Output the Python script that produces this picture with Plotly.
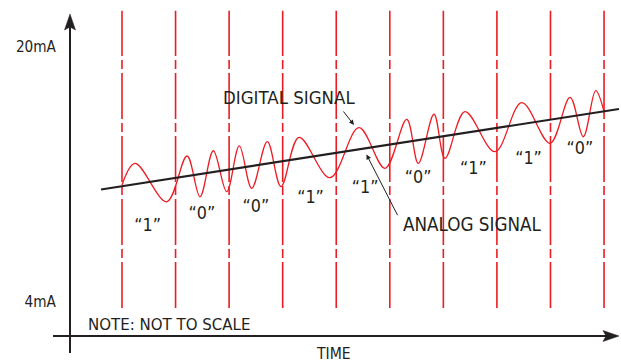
import plotly.graph_objects as go

W, H = 621, 364

# ---------------- data (time in bit periods, current in mA) ----------------
bits = ["1", "0", "0", "1", "1", "0", "1", "1", "0"]
bit_edges = [0, 1, 2, 3, 4, 5, 6, 7, 8, 9]
bit_label_t = [0.48, 1.49, 2.50, 3.52, 4.54, 5.53, 6.56, 7.59, 8.55]
bit_label_ma = [8.73, 9.46, 9.92, 10.51, 11.13, 11.76, 12.28, 12.91, 13.54]

analog_t = [-0.392, 9.279]
analog_ma = [11.06, 16.11]

# extrema of the FSK (digital) waveform
wave_t = [0.000, 0.243, 0.835, 1.214, 1.456, 1.705, 1.955, 2.190, 2.422,
          2.713, 2.969, 3.305, 3.884, 4.425, 4.910, 5.316, 5.532, 5.825,
          6.031, 6.404, 6.964, 7.463, 7.991, 8.365, 8.613, 8.844, 9.000]
wave_ma = [11.34, 12.70, 10.29, 13.16, 10.61, 13.49, 10.92, 13.79, 11.13,
           14.06, 11.24, 14.33, 11.80, 14.94, 12.39, 15.46, 12.70, 15.78,
           13.02, 15.94, 13.43, 16.51, 13.96, 16.84, 14.37, 17.26, 15.94]

y_tick_vals = [4, 20]
y_tick_text = ["4mA", "20mA"]

# ---------------- style ----------------
RED = "#ED1C24"
INK = "#231F20"
FONT = "DejaVu Sans Condensed, DejaVu Sans, sans-serif"


def px(x):
    return x / W


def py(y):
    return 1 - y / H


fig = go.Figure()

fig.add_trace(go.Scatter(
    x=wave_t, y=wave_ma, mode="lines",
    line=dict(color=RED, width=1.3, shape="spline", smoothing=1.0),
    hoverinfo="skip", showlegend=False))

fig.add_trace(go.Scatter(
    x=analog_t, y=analog_ma, mode="lines",
    line=dict(color=INK, width=2.2),
    hoverinfo="skip", showlegend=False))

fig.add_trace(go.Scatter(
    x=bit_label_t, y=bit_label_ma, mode="text",
    text=[f"\u201c{b}\u201d" for b in bits],
    textfont=dict(family=FONT, size=17.8, color=INK),
    hoverinfo="skip", showlegend=False))

shapes = []
for t in bit_edges:
    shapes.append(dict(type="line", xref="x", yref="paper",
                       x0=t, x1=t, y0=py(308), y1=py(10.7), layer="below",
                       line=dict(color=RED, width=1.6, dash="46px,4px,9px,4px")))

# axes with arrowheads
shapes.append(dict(type="line", xref="paper", yref="paper",
                   x0=px(70), x1=px(70), y0=py(353), y1=py(26),
                   line=dict(color=INK, width=2)))
shapes.append(dict(type="path", xref="paper", yref="paper",
                   path=f"M {px(70)},{py(14)} L {px(64.5)},{py(30)} L {px(70)},{py(27)} "
                        f"L {px(75.5)},{py(30)} Z",
                   fillcolor=INK, line=dict(color=INK, width=0.5)))
shapes.append(dict(type="line", xref="paper", yref="paper",
                   x0=px(53), x1=px(607), y0=py(336), y1=py(336),
                   line=dict(color=INK, width=2)))
shapes.append(dict(type="path", xref="paper", yref="paper",
                   path=f"M {px(619)},{py(336)} L {px(603)},{py(330.5)} L {px(606)},{py(336)} "
                        f"L {px(603)},{py(341.5)} Z",
                   fillcolor=INK, line=dict(color=INK, width=0.5)))


def label(text, cx, cy, size):
    return dict(text=text, x=px(cx), y=py(cy), xref="paper", yref="paper",
                xanchor="center", yanchor="middle", showarrow=False,
                font=dict(family=FONT, size=size, color=INK))


annotations = [
    label("DIGITAL SIGNAL", 289, 97.5, 18.5),
    label("ANALOG SIGNAL", 472, 224, 18.7),
    label("NOTE: NOT TO SCALE", 168.5, 323.5, 16.7),
    label("TIME", 333, 353.5, 15.6),
    # pointer arrows
    dict(text="", x=px(354), y=py(125), xref="paper", yref="paper",
         ax=-11.7, ay=-15, axref="pixel", ayref="pixel",
         showarrow=True, arrowhead=2, arrowsize=1, arrowwidth=1, arrowcolor=INK),
    dict(text="", x=px(366.5), y=py(154.5), xref="paper", yref="paper",
         ax=31.8, ay=62.2, axref="pixel", ayref="pixel",
         showarrow=True, arrowhead=2, arrowsize=1, arrowwidth=1, arrowcolor=INK),
]

fig.update_layout(
    template="none",
    width=W, height=H,
    margin=dict(l=0, r=0, t=0, b=0),
    paper_bgcolor="white", plot_bgcolor="white",
    showlegend=False,
    shapes=shapes,
    annotations=annotations,
    xaxis=dict(range=[-2.2778, 9.3166], visible=False, fixedrange=True),
    yaxis=dict(range=[0.110, 22.949], visible=True, showline=False, showgrid=False,
               zeroline=False, tickvals=y_tick_vals, ticktext=y_tick_text,
               ticks="outside", ticklen=11, tickcolor="rgba(0,0,0,0)",
               tickfont=dict(family=FONT, size=15.2, color=INK),
               anchor="free", position=px(70), automargin=False, fixedrange=True),
)

fig.write_html("out.html", config={"displayModeBar": False},
               post_script="document.body.style.margin='0';document.body.style.padding='0';")
